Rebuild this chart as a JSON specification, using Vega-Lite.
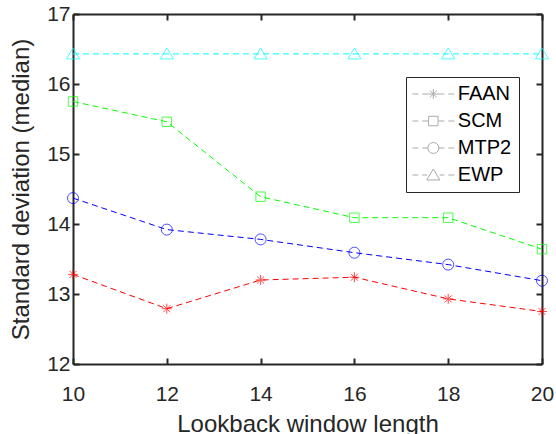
{
  "$schema": "https://vega.github.io/schema/vega-lite/v6.json",
  "autosize": {"type": "none"},
  "padding": {"left": 73, "top": 14, "right": 14, "bottom": 70},
  "width": 469,
  "height": 350,
  "background": "white",
  "view": {"stroke": null},
  "config": {
    "font": "Liberation Sans",
    "axis": {
      "domainColor": "#262626", "domainWidth": 2,
      "tickColor": "#262626", "tickWidth": 2, "tickSize": -6,
      "labelColor": "#262626", "labelFont": "Liberation Sans", "labelFontSize": 21,
      "titleColor": "#262626", "titleFont": "Liberation Sans", "titleFontSize": 24, "titleFontWeight": "normal",
      "grid": false, "labelFlush": false, "labelOverlap": false
    },
    "legend": {
      "labelFont": "Liberation Sans", "labelFontSize": 20, "labelColor": "#000000"
    }
  },
  "data": {"values": [
    {"x": 10, "method": "FAAN", "value": 13.28},
    {"x": 12, "method": "FAAN", "value": 12.79},
    {"x": 14, "method": "FAAN", "value": 13.20},
    {"x": 16, "method": "FAAN", "value": 13.24},
    {"x": 18, "method": "FAAN", "value": 12.93},
    {"x": 20, "method": "FAAN", "value": 12.75},
    {"x": 10, "method": "SCM", "value": 15.75},
    {"x": 12, "method": "SCM", "value": 15.46},
    {"x": 14, "method": "SCM", "value": 14.39},
    {"x": 16, "method": "SCM", "value": 14.09},
    {"x": 18, "method": "SCM", "value": 14.09},
    {"x": 20, "method": "SCM", "value": 13.64},
    {"x": 10, "method": "MTP2", "value": 14.37},
    {"x": 12, "method": "MTP2", "value": 13.92},
    {"x": 14, "method": "MTP2", "value": 13.78},
    {"x": 16, "method": "MTP2", "value": 13.59},
    {"x": 18, "method": "MTP2", "value": 13.42},
    {"x": 20, "method": "MTP2", "value": 13.19},
    {"x": 10, "method": "EWP", "value": 16.43},
    {"x": 12, "method": "EWP", "value": 16.43},
    {"x": 14, "method": "EWP", "value": 16.43},
    {"x": 16, "method": "EWP", "value": 16.43},
    {"x": 18, "method": "EWP", "value": 16.43},
    {"x": 20, "method": "EWP", "value": 16.43}
  ]},
  "layer": [
    {
      "mark": {"type": "line", "strokeDash": [6, 4], "strokeWidth": 1, "clip": false},
      "encoding": {
        "x": {"field": "x", "type": "quantitative",
              "scale": {"domain": [10, 20], "nice": false, "zero": false},
              "axis": {"values": [10, 12, 14, 16, 18, 20], "title": "Lookback window length", "labelPadding": 25, "titlePadding": 8}},
        "y": {"field": "value", "type": "quantitative",
              "scale": {"domain": [12, 17], "nice": false, "zero": false},
              "axis": {"values": [12, 13, 14, 15, 16, 17], "title": "Standard deviation (median)", "labelPadding": 9, "titlePadding": 13}},
        "stroke": {"field": "method", "type": "nominal",
                  "scale": {"domain": ["EWP", "MTP2", "SCM", "FAAN"], "range": ["#00ffff", "#0000ff", "#00ff00", "#ff0000"]},
                  "legend": null},
        "detail": {"field": "method"}
      }
    },
    {
      "mark": {"type": "point", "filled": false, "strokeWidth": 1, "size": 110, "clip": false},
      "encoding": {
        "x": {"field": "x", "type": "quantitative",
              "axis": {"orient": "top", "values": [10, 12, 14, 16, 18, 20], "labels": false, "title": null}},
        "y": {"field": "value", "type": "quantitative",
              "axis": {"orient": "right", "values": [12, 13, 14, 15, 16, 17], "labels": false, "title": null}},
        "stroke": {"field": "method", "type": "nominal", "legend": null},
        "shape": {"field": "method", "type": "nominal",
                  "scale": {"domain": ["EWP", "MTP2", "SCM", "FAAN"],
                            "range": ["M0,-1.15L1.25,0.95L-1.25,0.95Z",
                                      "M1.05,0A1.05,1.05,0,1,1,-1.05,0A1.05,1.05,0,1,1,1.05,0Z",
                                      "M-0.9,-0.9L0.9,-0.9L0.9,0.9L-0.9,0.9Z",
                                      "M-0.95,0L0.95,0M0,-0.95L0,0.95M-0.67,-0.67L0.67,0.67M-0.67,0.67L0.67,-0.67"]},
                  "legend": null}
      }
    },
    {
      "transform": [{"filter": "datum.x > 1000"}],
      "mark": {"type": "point", "filled": false, "strokeWidth": 1, "size": 110, "clip": false},
      "encoding": {
        "x": {"field": "x", "type": "quantitative", "axis": null},
        "y": {"field": "value", "type": "quantitative", "axis": null},
        "shape": {"field": "method", "type": "nominal",
                  "scale": {"domain": ["FAAN", "SCM", "MTP2", "EWP"],
                            "range": ["M-4,0L-2.86,0M-2.1,0L-0.95,0M0.95,0L2.1,0M2.86,0L4,0M-0.95,0L0.95,0M0,-0.95L0,0.95M-0.67,-0.67L0.67,0.67M-0.67,0.67L0.67,-0.67",
                                      "M-4,0L-2.86,0M-2.1,0L-0.95,0M0.95,0L2.1,0M2.86,0L4,0M-0.9,-0.9L0.9,-0.9L0.9,0.9L-0.9,0.9Z",
                                      "M-4,0L-2.86,0M-2.1,0L-1.05,0M1.05,0L2.1,0M2.86,0L4,0M1.05,0A1.05,1.05,0,1,1,-1.05,0A1.05,1.05,0,1,1,1.05,0Z",
                                      "M-4,0L-2.86,0M-2.1,0L-1.2,0M1.2,0L2.1,0M2.86,0L4,0M0,-1.15L1.25,0.95L-1.25,0.95Z"]},
                  "legend": {
                    "title": null, "orient": "none", "legendX": 333, "legendY": 63,
                    "padding": 7, "rowPadding": 7, "labelOffset": 14.5, "symbolOffset": 10.3,
                    "symbolSize": 110, "symbolStrokeWidth": 1, "symbolFillColor": "transparent",
                    "fillColor": "white", "strokeColor": "#262626"
                  }},
        "color": {"field": "method", "type": "nominal",
                  "scale": {"domain": ["FAAN", "SCM", "MTP2", "EWP"], "range": ["#ff0000", "#00ff00", "#0000ff", "#00ffff"]}}
      }
    }
  ],
  "resolve": {"scale": {"shape": "independent"}, "axis": {"x": "independent", "y": "independent"}}
}
